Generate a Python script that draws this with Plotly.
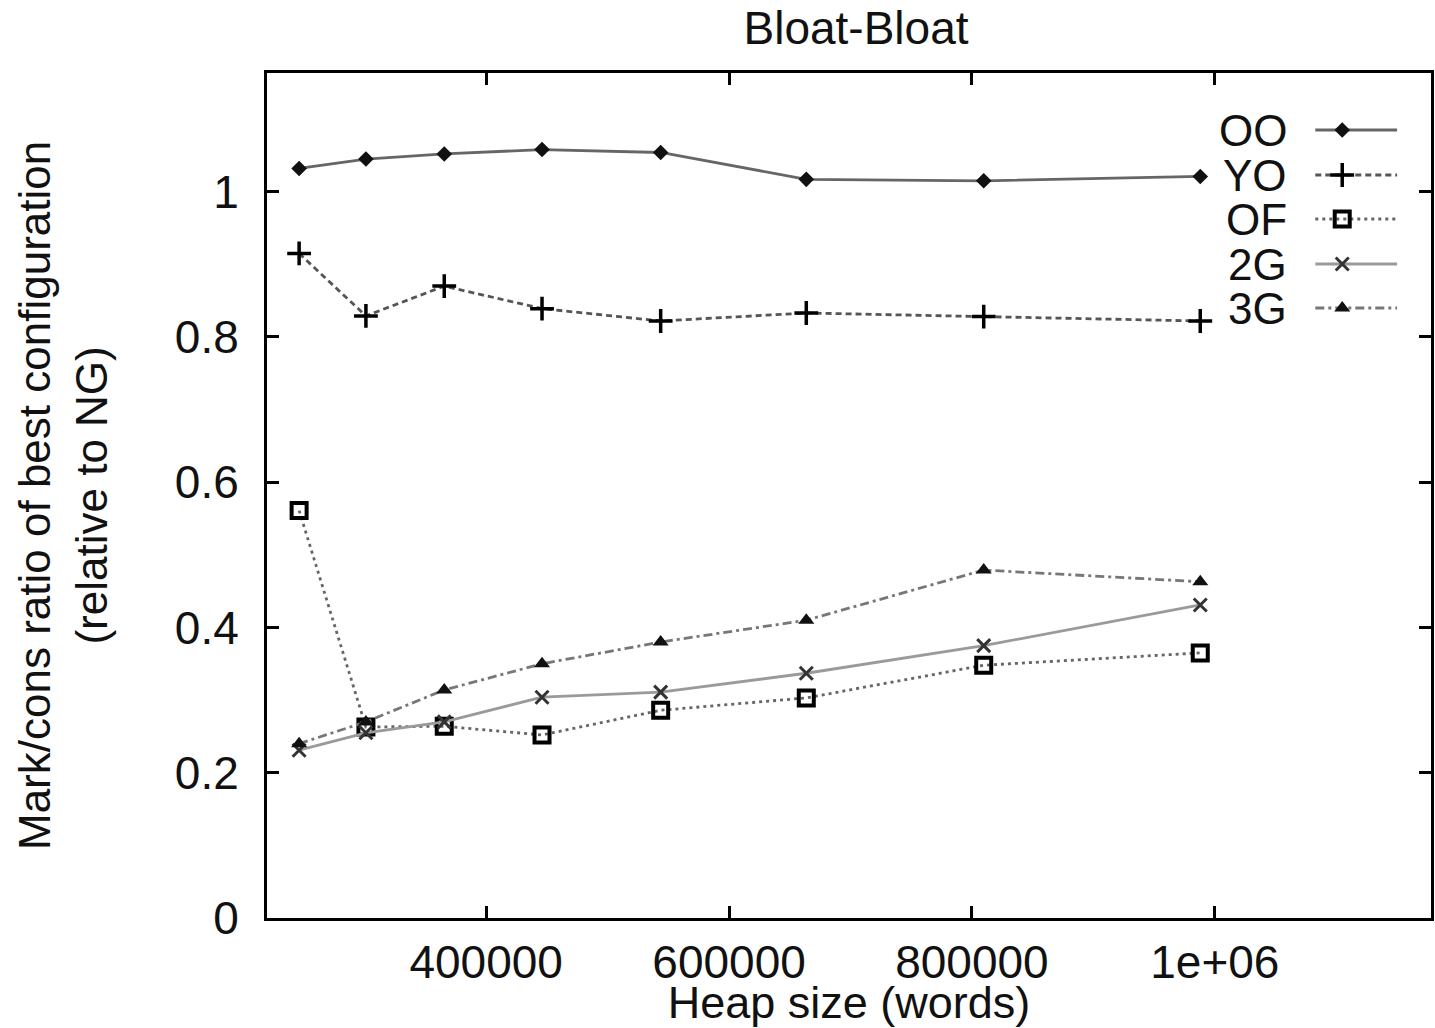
import plotly.graph_objects as go

# ---- data ----
heap_sizes = [246000, 301000, 365500, 446000, 543700, 663600, 809700, 988000]
series_names = ["OO", "YO", "OF", "2G", "3G"]
oo = [1.032, 1.045, 1.052, 1.058, 1.054, 1.017, 1.015, 1.021]
yo = [0.915, 0.829, 0.870, 0.839, 0.822, 0.833, 0.828, 0.822]
of = [0.561, 0.263, 0.264, 0.252, 0.286, 0.303, 0.348, 0.365]
g2 = [0.231, 0.255, 0.270, 0.304, 0.311, 0.337, 0.375, 0.431]
g3 = [0.240, 0.270, 0.314, 0.350, 0.380, 0.410, 0.479, 0.463]
x_tick_vals = [400000, 600000, 800000, 1000000]
x_tick_text = ["400000", "600000", "800000", "1e+06"]
y_tick_vals = [0, 0.2, 0.4, 0.6, 0.8, 1]
y_tick_text = ["0", "0.2", "0.4", "0.6", "0.8", "1"]

# ---- layout constants (pixels) ----
W, H = 1435, 1028
L, R, T, B = 267, 1434, 73, 918
FONT = "Liberation Sans, Arial, sans-serif"
TXT = "#111111"
FS = 46

styles = [
    dict(line=dict(color="#666666", width=2.8, dash="solid"),
         marker=dict(symbol="diamond", size=12, color="#111111")),
    dict(line=dict(color="#555555", width=2.8, dash="6px,4px"),
         marker=dict(symbol="cross-thin", size=17, color="black", line=dict(width=3.5, color="black"))),
    dict(line=dict(color="#666666", width=2.8, dash="3px,4px"),
         marker=dict(symbol="square-open", size=15, color="black", line=dict(width=4, color="black"))),
    dict(line=dict(color="#9a9a9a", width=2.8, dash="solid"),
         marker=dict(symbol="x-thin", size=13, color="#333333", line=dict(width=3, color="#333333"))),
    dict(line=dict(color="#777777", width=2.8, dash="9px,4px,3px,4px"),
         marker=dict(symbol="triangle-up", size=14, color="#111111")),
]
series_vals = [oo, yo, of, g2, g3]

fig = go.Figure()
for name, vals, st in zip(series_names, series_vals, styles):
    fig.add_trace(go.Scatter(x=heap_sizes, y=vals, mode="lines+markers", name=name,
                             line=st["line"], marker=st["marker"], showlegend=False))

# custom legend (text left of sample, like gnuplot) on pixel overlay axis
leg_rows = [130, 175, 219, 264, 308]
for name, yrow, st in zip(series_names, leg_rows, styles):
    fig.add_trace(go.Scatter(x=[1318, 1400], y=[yrow, yrow], mode="lines", line=st["line"],
                             xaxis="x2", yaxis="y2", showlegend=False, hoverinfo="skip"))
    fig.add_trace(go.Scatter(x=[1345], y=[yrow], mode="markers", marker=st["marker"],
                             xaxis="x2", yaxis="y2", showlegend=False, hoverinfo="skip"))
    fig.add_annotation(x=1292, y=yrow, xref="x2", yref="y2", text=name, showarrow=False,
                       xanchor="right", yanchor="middle", font=dict(size=44, color=TXT, family=FONT))

# y axis title (two lines)
fig.add_annotation(x=(62 - L) / (R - L), y=0.5, xref="paper", yref="paper",
                   text="Mark/cons ratio of best configuration<br>(relative to NG)",
                   textangle=-90, showarrow=False, xanchor="center", yanchor="middle",
                   font=dict(size=44, color=TXT, family=FONT))

x_left = 400000 - (486.7 - L) * (200000 / 243.5)
x_right = 1000000 + (R - 1217.3) * (200000 / 243.5)
y_top = (B - T) / 726.3

fig.update_layout(
    width=W, height=H,
    margin=dict(l=L, r=W - R, t=T, b=H - B, pad=0),
    plot_bgcolor="white", paper_bgcolor="white",
    font=dict(family=FONT, size=FS, color=TXT),
    title=dict(text="Bloat-Bloat", x=856 / W, xanchor="center", xref="container",
               y=1 - 28 / H, yanchor="middle", yref="container",
               font=dict(size=FS, color=TXT, family=FONT)),
    xaxis=dict(range=[x_left, x_right], tickvals=x_tick_vals, ticktext=x_tick_text,
               ticks="inside", ticklen=12, tickwidth=3, tickcolor="black",
               showline=True, linewidth=3, linecolor="black", mirror="ticks",
               showgrid=False, zeroline=False, ticklabelstandoff=2,
               title=dict(text="Heap size (words)", standoff=4,
                          font=dict(size=45, color=TXT, family=FONT)),
               tickfont=dict(size=FS, color=TXT, family=FONT)),
    yaxis=dict(range=[0, y_top], tickvals=y_tick_vals, ticktext=y_tick_text,
               ticks="inside", ticklen=12, tickwidth=3, tickcolor="black",
               showline=True, linewidth=3, linecolor="black", mirror="ticks",
               showgrid=False, zeroline=False, ticklabelstandoff=16,
               tickfont=dict(size=FS, color=TXT, family=FONT)),
    xaxis2=dict(range=[L, R], overlaying="x", visible=False, domain=[0, 1]),
    yaxis2=dict(range=[B, T], overlaying="y", visible=False, domain=[0, 1]),
)

fig.write_html("out.html")
